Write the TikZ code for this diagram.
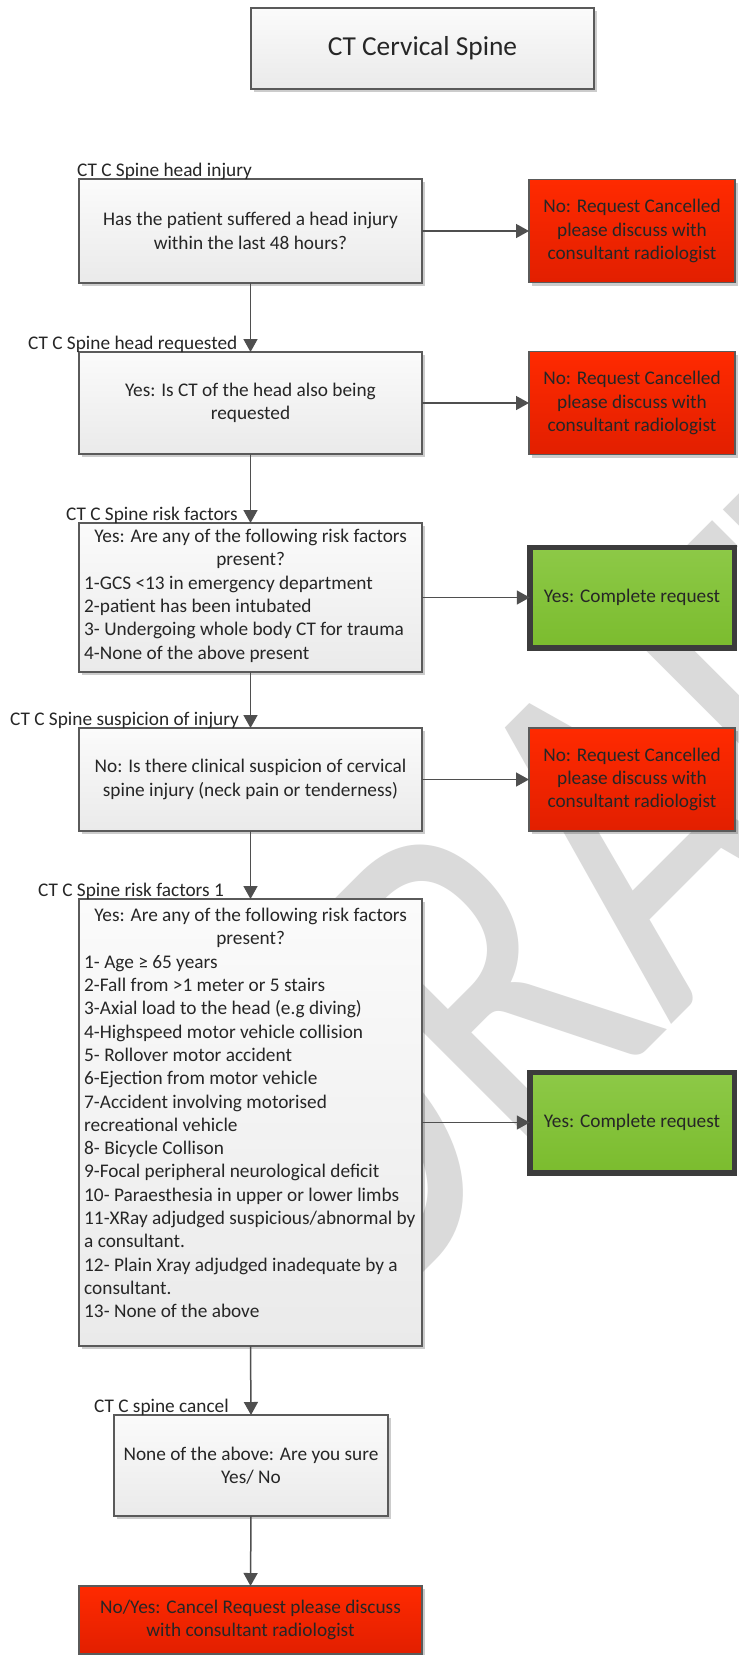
\documentclass[tikz,border=0pt]{standalone}
\usepackage{fontspec}
\setmainfont{Carlito}
\usetikzlibrary{arrows.meta,shadows}
\definecolor{txt}{HTML}{262626}
\definecolor{bord}{HTML}{5A5A5A}
\definecolor{gtop}{HTML}{FBFBFB}
\definecolor{gbot}{HTML}{EAEAEA}
\definecolor{rtop}{HTML}{FF2A00}
\definecolor{rbot}{HTML}{E21F00}
\definecolor{ktop}{HTML}{8DC947}
\definecolor{kbot}{HTML}{7BBC2E}
\definecolor{kbord}{HTML}{3C3C3C}
\definecolor{conncol}{HTML}{4F4F4F}
\definecolor{wmgray}{HTML}{DADADA}
\newcommand{\ctrline}[1]{\makebox[333pt][c]{#1}}
\begin{document}
\begin{tikzpicture}[x=1pt,y=-1pt,
  base/.style={font=\fontsize{19.3}{23.3}\selectfont, text=txt},
  shadowed/.style={drop shadow={shadow xshift=3pt,shadow yshift=-3pt,fill=black,opacity=0.2}},
  gbox/.style={base, shadowed, draw=bord, line width=1.4pt, top color=gtop, bottom color=gbot,
    minimum width=343pt, inner sep=5pt, outer sep=0pt, align=center},
  listtext/.style={base, anchor=north west, inner sep=0pt, text width=333pt, align=flush left},
  rbox/.style={base, shadowed, draw=bord, line width=1.4pt, top color=rtop, bottom color=rbot,
    minimum width=206pt, minimum height=103pt, inner sep=4pt, outer sep=0pt, align=center},
  okbox/.style={base, shadowed, draw=kbord, line width=5.5pt, top color=ktop, bottom color=kbot,
    minimum width=204.5pt, minimum height=100.5pt, inner sep=4pt, outer sep=0pt, align=center},
  lbl/.style={base, anchor=base west, inner sep=0pt},
  conn/.style={draw=conncol, line width=1.5pt, -{Triangle[length=13pt,width=14pt]}},
]
\useasboundingbox (0,0) rectangle (739,1655);
\fill[white] (0,0) rectangle (739,1655);
% watermark
\begin{scope}
\clip (0,0) rectangle (739,1655);
\begin{scope}[shift={(604.9,860.1)}, rotate=45, xscale=0.75]
\node[transform shape, text=wmgray, font=\fontsize{510}{510}\selectfont, inner sep=0pt] (wm) at (0,0) {DRAFT};
\end{scope}
\end{scope}

% title
\node[gbox, minimum width=343pt, minimum height=81pt, font=\fontsize{27.4}{32}\selectfont] (title) at (422.5,48.5) {CT Cervical Spine};

% main column
\node[gbox, minimum height=104pt] (b1) at (250.5,231) {Has the patient suffered a head injury\\within the last 48 hours?};
\node[gbox, minimum height=102pt] (b2) at (250.5,403) {Yes: Is CT of the head also being\\requested};
\node[gbox, minimum height=149pt] (b3) at (250.5,597.5) {};
\node[listtext] (b3t) at (84,529) {\ctrline{Yes: Are any of the following risk factors}\\
\ctrline{present?}\\
1-GCS <13 in emergency department\\
2-patient has been intubated\\
3- Undergoing whole body CT for trauma\\
4-None of the above present};
\node[gbox, minimum height=103pt] (b4) at (250.5,779.5) {No: Is there clinical suspicion of cervical\\spine injury (neck pain or tenderness)};
\node[gbox, minimum height=447pt] (b5) at (250.5,1122.5) {};
\node[listtext] (b5t) at (84,908) {\ctrline{Yes: Are any of the following risk factors}\\
\ctrline{present?}\\
1- Age ≥ 65 years\\
2-Fall from >1 meter or 5 stairs\\
3-Axial load to the head (e.g diving)\\
4-Highspeed motor vehicle collision\\
5- Rollover motor accident\\
6-Ejection from motor vehicle\\
7-Accident involving motorised\\
recreational vehicle\\
8- Bicycle Collison\\
9-Focal peripheral neurological deficit\\
\mbox{10- Paraesthesia in upper or lower limbs}\\
\mbox{11-XRay adjudged suspicious/abnormal by}\\
a consultant.\\
\mbox{12- Plain Xray adjudged inadequate by a}\\
consultant.\\
13- None of the above};
\node[gbox, minimum width=274pt, minimum height=101pt] (b6) at (251,1465.5) {None of the above: Are you sure\\Yes/ No};
\node[rbox, minimum width=343pt, minimum height=68pt] (rf) at (250.5,1620) {No/Yes: Cancel Request please discuss\\with consultant radiologist};

% right column
\node[rbox] (r1) at (632,231) {No: Request Cancelled\\please discuss with\\consultant radiologist};
\node[rbox] (r2) at (632,403) {No: Request Cancelled\\please discuss with\\consultant radiologist};
\node[okbox] (g1) at (632,597.5) {Yes: Complete request};
\node[rbox] (r3) at (632,779.5) {No: Request Cancelled\\please discuss with\\consultant radiologist};
\node[okbox] (g2) at (632,1122.5) {Yes: Complete request};

% labels
\node[lbl] (l1) at (77,176) {CT C Spine head injury};
\node[lbl] (l2) at (28,349) {CT C Spine head requested};
\node[lbl] (l3) at (66,520) {CT C Spine risk factors};
\node[lbl] (l4) at (10,725) {CT C Spine suspicion of injury};
\node[lbl] (l5) at (38,896) {CT C Spine risk factors 1};
\node[lbl] (l6) at (94,1412) {CT C spine cancel};

% connectors
\draw[conn] (b1.south) -- (b2.north);
\draw[conn] (b2.south) -- (b3.north);
\draw[conn] (b3.south) -- (b4.north);
\draw[conn] (b4.south) -- (b5.north);
\draw[conn] (b5.south) -- (b6.north);
\draw[conn] (b6.south) -- (rf.north);
\draw[conn] (b1.east) -- (r1.west);
\draw[conn] (b2.east) -- (r2.west);
\draw[conn] (b3.east) -- (g1.west);
\draw[conn] (b4.east) -- (r3.west);
\draw[conn] (b5.east) -- (g2.west);
\end{tikzpicture}
\end{document}
